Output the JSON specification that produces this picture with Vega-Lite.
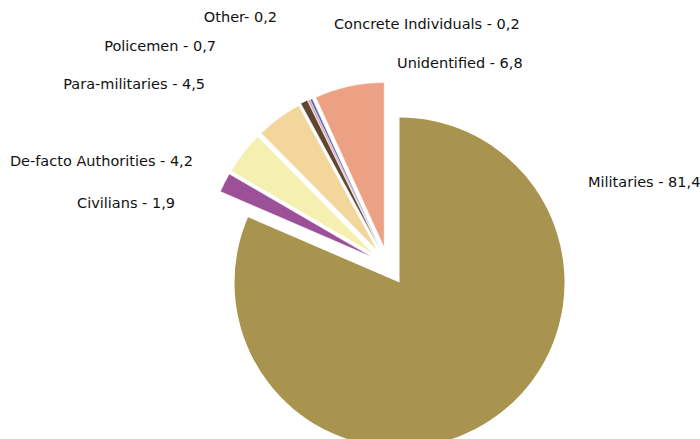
{
  "$schema": "https://vega.github.io/schema/vega-lite/v6.json",
  "width": 600,
  "height": 348,
  "autosize": {"type": "none"},
  "padding": {"left": 88, "top": 91, "right": 12, "bottom": 0},
  "background": "white",
  "config": {"view": {"stroke": null}, "text": {"font": "DejaVu Sans", "fontSize": 14.5, "baseline": "middle"}},
  "data": {"values": [
    {"idx": 1, "category": "Militaries", "label": "Militaries - 81,4", "value": 81.4},
    {"idx": 2, "category": "Civilians", "label": "Civilians - 1,9", "value": 1.9},
    {"idx": 3, "category": "De-facto Authorities", "label": "De-facto Authorities - 4,2", "value": 4.2},
    {"idx": 4, "category": "Para-militaries", "label": "Para-militaries - 4,5", "value": 4.5},
    {"idx": 5, "category": "Policemen", "label": "Policemen - 0,7", "value": 0.7},
    {"idx": 6, "category": "Other", "label": "Other- 0,2", "value": 0.2},
    {"idx": 7, "category": "Concrete Individuals", "label": "Concrete Individuals - 0,2", "value": 0.2},
    {"idx": 8, "category": "Unidentified", "label": "Unidentified - 6,8", "value": 6.8}
  ]},
  "transform": [
    {"stack": "value", "groupby": [], "sort": [{"field": "idx", "order": "ascending"}], "as": ["v0", "v1"]}
  ],
  "encoding": {
    "color": {"field": "category", "type": "nominal", "legend": null,
      "scale": {
        "domain": ["Militaries", "Civilians", "De-facto Authorities", "Para-militaries", "Policemen", "Other", "Concrete Individuals", "Unidentified"],
        "range": ["#A8944F", "#9B5098", "#F5F0B0", "#F3D69B", "#5E4631", "#EE9AA5", "#4D68B2", "#EDA184"]
      }}
  },
  "layer": [
    {"transform": [{"filter": "datum.category === 'Militaries'"}],
     "mark": {"type": "arc", "radius": 165, "xOffset": 11.5, "yOffset": 17.5},
     "encoding": {"theta": {"field": "v0", "type": "quantitative", "scale": {"domain": [0, 99.9], "nice": false, "zero": true}}, "theta2": {"field": "v1"}}},
    {"transform": [{"filter": "datum.category === 'Civilians'"}],
     "mark": {"type": "arc", "radius": 165, "xOffset": -16.1, "yOffset": -8.1, "stroke": "white", "strokeWidth": 0.5},
     "encoding": {"theta": {"field": "v0", "type": "quantitative", "scale": {"domain": [0, 99.9], "nice": false, "zero": true}}, "theta2": {"field": "v1"}}},
    {"transform": [{"filter": "datum.category === 'De-facto Authorities'"}],
     "mark": {"type": "arc", "radius": 165, "xOffset": -14.2, "yOffset": -11.0, "stroke": "white", "strokeWidth": 0.5},
     "encoding": {"theta": {"field": "v0", "type": "quantitative", "scale": {"domain": [0, 99.9], "nice": false, "zero": true}}, "theta2": {"field": "v1"}}},
    {"transform": [{"filter": "datum.category === 'Para-militaries'"}],
     "mark": {"type": "arc", "radius": 165, "xOffset": -10.7, "yOffset": -14.5, "stroke": "white", "strokeWidth": 0.5},
     "encoding": {"theta": {"field": "v0", "type": "quantitative", "scale": {"domain": [0, 99.9], "nice": false, "zero": true}}, "theta2": {"field": "v1"}}},
    {"transform": [{"filter": "datum.category === 'Policemen'"}],
     "mark": {"type": "arc", "radius": 165, "xOffset": -8.6, "yOffset": -16.5, "stroke": "white", "strokeWidth": 0.5},
     "encoding": {"theta": {"field": "v0", "type": "quantitative", "scale": {"domain": [0, 99.9], "nice": false, "zero": true}}, "theta2": {"field": "v1"}}},
    {"transform": [{"filter": "datum.category === 'Other'"}],
     "mark": {"type": "arc", "radius": 165, "xOffset": -7.8, "yOffset": -16.2, "stroke": "white", "strokeWidth": 0.3},
     "encoding": {"theta": {"field": "v0", "type": "quantitative", "scale": {"domain": [0, 99.9], "nice": false, "zero": true}}, "theta2": {"field": "v1"}}},
    {"transform": [{"filter": "datum.category === 'Concrete Individuals'"}],
     "mark": {"type": "arc", "radius": 165, "xOffset": -7.4, "yOffset": -16.0, "stroke": "white", "strokeWidth": 0.3},
     "encoding": {"theta": {"field": "v0", "type": "quantitative", "scale": {"domain": [0, 99.9], "nice": false, "zero": true}}, "theta2": {"field": "v1"}}},
    {"transform": [{"filter": "datum.category === 'Unidentified'"}],
     "mark": {"type": "arc", "radius": 165, "xOffset": -3.8, "yOffset": -17.6, "stroke": "white", "strokeWidth": 0.5},
     "encoding": {"theta": {"field": "v0", "type": "quantitative", "scale": {"domain": [0, 99.9], "nice": false, "zero": true}}, "theta2": {"field": "v1"}}},

    {"mark": {"type": "text", "radius": 210, "dx": 84.6, "dy": -257.5, "align": "left"},
     "encoding": {"color": {"value": "#111111"}, "theta": {"field": "value", "type": "quantitative", "stack": true, "scale": {"domain": [0, 99.9], "nice": false, "zero": true}}, "order": {"field": "idx", "type": "quantitative"},
       "text": {"condition": {"test": "datum.category === 'Militaries'", "field": "label"}, "value": ""}}},
    {"mark": {"type": "text", "radius": 210, "dx": -25.5, "dy": 33.5, "align": "right"},
     "encoding": {"color": {"value": "#111111"}, "theta": {"field": "value", "type": "quantitative", "stack": true, "scale": {"domain": [0, 99.9], "nice": false, "zero": true}}, "order": {"field": "idx", "type": "quantitative"},
       "text": {"condition": {"test": "datum.category === 'Civilians'", "field": "label"}, "value": ""}}},
    {"mark": {"type": "text", "radius": 210, "dx": -29, "dy": 25.6, "align": "right"},
     "encoding": {"color": {"value": "#111111"}, "theta": {"field": "value", "type": "quantitative", "stack": true, "scale": {"domain": [0, 99.9], "nice": false, "zero": true}}, "order": {"field": "idx", "type": "quantitative"},
       "text": {"condition": {"test": "datum.category === 'De-facto Authorities'", "field": "label"}, "value": ""}}},
    {"mark": {"type": "text", "radius": 210, "dx": -57.8, "dy": -11.4, "align": "right"},
     "encoding": {"color": {"value": "#111111"}, "theta": {"field": "value", "type": "quantitative", "stack": true, "scale": {"domain": [0, 99.9], "nice": false, "zero": true}}, "order": {"field": "idx", "type": "quantitative"},
       "text": {"condition": {"test": "datum.category === 'Para-militaries'", "field": "label"}, "value": ""}}},
    {"mark": {"type": "text", "radius": 210, "dx": -76, "dy": -31.2, "align": "right"},
     "encoding": {"color": {"value": "#111111"}, "theta": {"field": "value", "type": "quantitative", "stack": true, "scale": {"domain": [0, 99.9], "nice": false, "zero": true}}, "order": {"field": "idx", "type": "quantitative"},
       "text": {"condition": {"test": "datum.category === 'Policemen'", "field": "label"}, "value": ""}}},
    {"mark": {"type": "text", "radius": 210, "dx": -20.3, "dy": -57.6, "align": "right"},
     "encoding": {"color": {"value": "#111111"}, "theta": {"field": "value", "type": "quantitative", "stack": true, "scale": {"domain": [0, 99.9], "nice": false, "zero": true}}, "order": {"field": "idx", "type": "quantitative"},
       "text": {"condition": {"test": "datum.category === 'Other'", "field": "label"}, "value": ""}}},
    {"mark": {"type": "text", "radius": 210, "dx": 34.3, "dy": -49.5, "align": "left"},
     "encoding": {"color": {"value": "#111111"}, "theta": {"field": "value", "type": "quantitative", "stack": true, "scale": {"domain": [0, 99.9], "nice": false, "zero": true}}, "order": {"field": "idx", "type": "quantitative"},
       "text": {"condition": {"test": "datum.category === 'Concrete Individuals'", "field": "label"}, "value": ""}}},
    {"mark": {"type": "text", "radius": 210, "dx": 53.6, "dy": 4.2, "align": "left"},
     "encoding": {"color": {"value": "#111111"}, "theta": {"field": "value", "type": "quantitative", "stack": true, "scale": {"domain": [0, 99.9], "nice": false, "zero": true}}, "order": {"field": "idx", "type": "quantitative"},
       "text": {"condition": {"test": "datum.category === 'Unidentified'", "field": "label"}, "value": ""}}}
  ]
}
